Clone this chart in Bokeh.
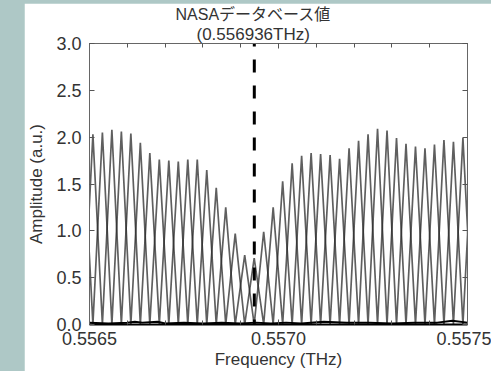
from bokeh.plotting import figure
from bokeh.models import (Range1d, LinearAxis, FixedTicker, Title,
                          ColumnDataSource, PrintfTickFormatter)
from bokeh.layouts import column
from bokeh.embed import file_html
from bokeh.resources import INLINE

# ---- data ----
# peak frequencies (THz) of the interleaved triangle traces
peak_freqs = [0.5564839, 0.5565090, 0.5565341, 0.5565592, 0.5565843, 0.5566094,
              0.5566345, 0.5566596, 0.5566847, 0.5567098, 0.5567349, 0.5567600,
              0.5567851, 0.5568102, 0.5568353, 0.5568604, 0.5568855, 0.5569106,
              0.5569357, 0.5569608, 0.5569859, 0.5570110, 0.5570361, 0.5570612,
              0.5570863, 0.5571114, 0.5571365, 0.5571616, 0.5571867, 0.5572118,
              0.5572369, 0.5572620, 0.5572871, 0.5573122, 0.5573373, 0.5573624,
              0.5573875, 0.5574126, 0.5574377, 0.5574628, 0.5574879, 0.5575130]
peak_amps = [1.98, 2.03, 2.05, 2.08, 2.06, 2.04, 1.94, 1.83, 1.76, 1.75, 1.74,
             1.76, 1.76, 1.65, 1.46, 1.25, 0.97, 0.74, 0.71, 0.99, 1.25, 1.53,
             1.72, 1.80, 1.83, 1.82, 1.81, 1.77, 1.88, 1.96, 2.03, 2.09, 2.07,
             1.99, 1.93, 1.90, 1.88, 1.92, 1.97, 1.95, 1.99, 1.95]

# near-zero baseline trace
base_freqs = [0.55650, 0.55655, 0.55660, 0.55662, 0.55664, 0.55668, 0.55670,
              0.55675, 0.55680, 0.55685, 0.55690, 0.55694, 0.55698, 0.55702,
              0.55706, 0.55712, 0.55718, 0.55724, 0.55730, 0.55736, 0.55742,
              0.55746, 0.55750]
base_vals = [0.02, 0.01, 0.02, 0.03, 0.02, 0.03, 0.01, 0.02, 0.01, 0.02, 0.01,
             0.02, 0.01, 0.02, 0.01, 0.03, 0.02, 0.02, 0.01, 0.02, 0.02, 0.04, 0.02]

nasa_freq = 0.556936
title_line1 = "NASAデータベース値"
title_line2 = "(0.556936THz)"

x_ticks = [0.5565, 0.5570, 0.5575]
x_minor = [0.5566, 0.5567, 0.5568, 0.5569, 0.5571, 0.5572, 0.5573, 0.5574]
y_ticks = [0.0, 0.5, 1.0, 1.5, 2.0, 2.5, 3.0]

# split into two interleaved traces (peaks at even / odd positions, zeros between)
trace_a = [a if i % 2 == 1 else 0.0 for i, a in enumerate(peak_amps)]
trace_b = [a if i % 2 == 0 else 0.0 for i, a in enumerate(peak_amps)]

FONT = "'Liberation Sans', 'Noto Sans CJK JP', sans-serif"
TXT = "#333333"

p = figure(width=467, height=368, output_backend="svg", toolbar_location=None,
           x_range=Range1d(0.5565, 0.5575), y_range=Range1d(0, 3),
           min_border_left=65, min_border_right=24, min_border_top=40,
           min_border_bottom=44)
p.background_fill_color = "white"
p.border_fill_color = "white"
p.outline_line_color = "#666666"
p.grid.visible = False

for ys in (trace_a, trace_b):
    src = ColumnDataSource(dict(x=peak_freqs, y=ys))
    p.line("x", "y", source=src, line_color="#2a2a2a", line_width=1.7, line_alpha=0.75)

p.line(base_freqs, base_vals, line_color="black", line_width=2)

p.segment(x0=[nasa_freq], y0=[0], x1=[nasa_freq], y1=[3], line_color="black",
          line_width=3, line_dash="13 13", line_dash_offset=8)

# axes
xt = FixedTicker(ticks=x_ticks, minor_ticks=x_minor)
yt = FixedTicker(ticks=y_ticks)
xa = p.xaxis[0]
xa.ticker = xt
xa.formatter = PrintfTickFormatter(format="%.4f")
xa.axis_label = "Frequency (THz)"
xa.axis_line_color = "black"
xa.axis_line_width = 2
ya = p.yaxis[0]
ya.ticker = yt
ya.formatter = PrintfTickFormatter(format="%.1f")
ya.axis_label = "Amplitude (a.u.)"

top = LinearAxis(ticker=xt, major_label_text_font_size="0px",
                 major_label_text_color=None, major_label_standoff=0)
right = LinearAxis(ticker=yt, major_label_text_font_size="0px",
                   major_label_text_color=None, major_label_standoff=0)
p.add_layout(top, "above")
p.add_layout(right, "right")

for ax in (xa, ya, top, right):
    ax.major_tick_in = 5
    ax.major_tick_out = 0
    ax.minor_tick_in = 4
    ax.minor_tick_out = 0
    ax.major_tick_line_color = "#555555"
    ax.minor_tick_line_color = "#555555"
    if ax is not xa:
        ax.axis_line_color = "#666666"
    ax.major_label_text_font = FONT
    ax.axis_label_text_font = FONT
    ax.axis_label_text_color = TXT
    ax.axis_label_text_font_style = "normal"
    ax.axis_label_text_font_size = "17px"
for ax in (ya, right):
    ax.minor_tick_line_color = None

xa.major_label_text_color = TXT
ya.major_label_text_color = TXT
xa.major_label_text_font_size = "18px"
ya.major_label_text_font_size = "18px"
xa.major_label_standoff = 7
xa.axis_label_standoff = 2
ya.major_label_standoff = 8
ya.axis_label_standoff = 7

# two-line annotation above the dashed NASA line (inner line added first)
t2 = Title(text=title_line2, align="left", offset=107, standoff=0,
           text_font=FONT, text_font_size="17px", text_font_style="normal",
           text_color=TXT)
t1 = Title(text=title_line1, align="left", offset=86, standoff=0,
           text_font=FONT, text_font_size="16px", text_font_style="normal",
           text_color=TXT)
p.add_layout(t2, "above")
p.add_layout(t1, "above")

p.margin = (3, 0, 0, 24)
layout = column(p, width=491, height=371,
                styles={"background-color": "#aec8c6"})

open("out.html", "w").write(file_html(layout, INLINE))
